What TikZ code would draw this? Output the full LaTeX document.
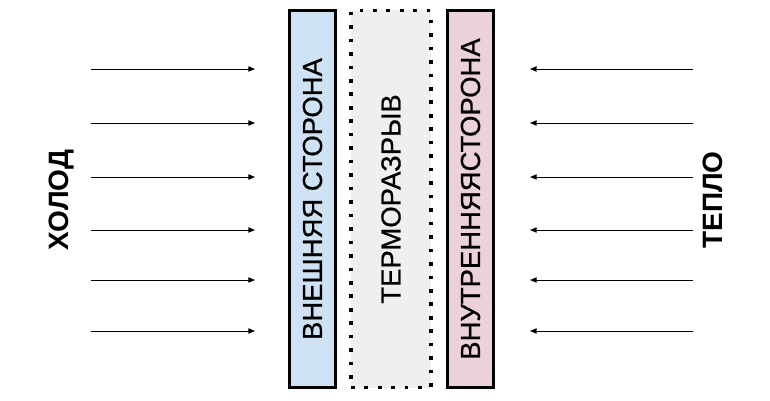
\documentclass[tikz,border=0pt]{standalone}
\usepackage{fontspec}
\setmainfont{Liberation Sans}
\newfontfamily\layerfont{Liberation Sans}[FakeBold=0.6]
\usepackage{xcolor}
\definecolor{outerblue}{HTML}{CFE2F3}
\definecolor{innerrose}{HTML}{EAD1DC}
\definecolor{breakgray}{HTML}{EFEFEF}
\usetikzlibrary{positioning, arrows.meta}
\tikzset{
  >={Triangle[length=5pt, width=4pt]},
  every node/.style={font=\fontsize{20.6}{20.6}\selectfont},
  wallside/.style={
    rectangle, draw=black, line width=2.3pt,
    minimum width=35pt, minimum height=283pt, inner sep=0pt
  },
  thermobreak/.style={
    rectangle, draw=black, fill=breakgray, line width=2.7pt,
    dash pattern=on 2.7pt off 7.4pt,
    minimum width=60pt, minimum height=283pt, inner sep=0pt
  },
  layerlabel/.style={rotate=90, font=\fontsize{20.6}{20.6}\layerfont},
  heatarrow/.style={->, line width=0.75pt},
  sidelabel/.style={rotate=90, font=\fontsize{21}{21}\selectfont\bfseries}
}

\begin{document}
\begin{tikzpicture}[x=0.75pt, y=-0.75pt]
\useasboundingbox (0,0) rectangle (770,400);

% Wall layers
\node[wallside, fill=outerblue] (outer) at (312.5,199) {};
\node[thermobreak] (break) at (391,199) {};
\node[wallside, fill=innerrose] (inner) at (470.5,199) {};

\node[layerlabel] (outerlbl) at (outer.center) {ВНЕШНЯЯ СТОРОНА};
\node[layerlabel] (breaklbl) at (break.center) {ТЕРМОРАЗРЫВ};
\node[layerlabel] (innerlbl) at (inner.center) {ВНУТРЕННЯЯСТОРОНА};

% Side labels
\node[sidelabel] (cold) at (62,200) {ХОЛОД};
\node[sidelabel] (warm) at (713,200) {ТЕПЛО};

% Flow arrows
\foreach \y [count=\i] in {69,123,177,230,280,331} {
  \coordinate (cs\i) at (91,\y);
  \coordinate (ce\i) at (255,\y);
  \coordinate (ws\i) at (693,\y);
  \coordinate (we\i) at (530,\y);
  \draw[heatarrow] (cs\i) -- (ce\i);
  \draw[heatarrow] (ws\i) -- (we\i);
}

\end{tikzpicture}
\end{document}
